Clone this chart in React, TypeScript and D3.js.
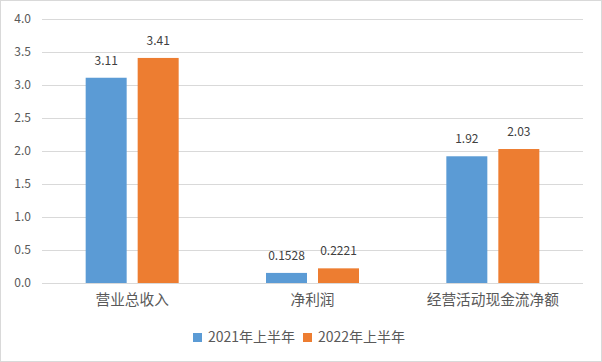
import React, { useEffect, useRef } from 'react';
import * as d3 from 'd3';

const categories = ['营业总收入', '净利润', '经营活动现金流净额'];
const seriesNames = ['2021年上半年', '2022年上半年'];
const values2021 = [3.11, 0.1528, 1.92];
const values2022 = [3.41, 0.2221, 2.03];
const labels2021 = ['3.11', '0.1528', '1.92'];
const labels2022 = ['3.41', '0.2221', '2.03'];
const yTicks = [0, 0.5, 1, 1.5, 2, 2.5, 3, 3.5, 4];
const colors = ['#5B9BD5', '#ED7D31'];

const W = 602;
const H = 362;
const FONT = '"Noto Sans CJK SC", "Noto Sans", sans-serif';

export default function App() {
  const ref = useRef<SVGSVGElement>(null);

  useEffect(() => {
    const svg = d3.select(ref.current);
    svg.selectAll('*').remove();

    const left = 42, right = 583, top = 19, bottom = 283;

    svg.append('rect')
      .attr('x', 0.5).attr('y', 0.5)
      .attr('width', W - 1).attr('height', H - 1)
      .attr('fill', '#fff').attr('stroke', '#d9d9d9');

    const y = d3.scaleLinear().domain([0, 4]).range([bottom, top]);
    const x0 = d3.scaleBand().domain(categories).range([left, right]);
    const barW = 41, gap = 11;
    const x1 = d3.scaleOrdinal<string, number>()
      .domain(seriesNames)
      .range([-gap / 2 - barW, gap / 2]);

    // gridlines
    svg.append('g').selectAll('line')
      .data(yTicks)
      .enter().append('line')
      .attr('x1', left).attr('x2', right)
      .attr('y1', d => Math.round(y(d)) + 0.5)
      .attr('y2', d => Math.round(y(d)) + 0.5)
      .attr('stroke', '#d9d9d9');

    // y tick labels
    svg.append('g').selectAll('text')
      .data(yTicks)
      .enter().append('text')
      .attr('x', 31)
      .attr('y', d => y(d))
      .attr('dy', '0.35em')
      .attr('text-anchor', 'end')
      .attr('font-family', FONT)
      .attr('font-size', 12)
      .attr('fill', '#595959')
      .text(d => d3.format('.1f')(d));

    const series = [
      { name: seriesNames[0], vals: values2021, labels: labels2021, color: colors[0] },
      { name: seriesNames[1], vals: values2022, labels: labels2022, color: colors[1] },
    ];

    series.forEach(s => {
      const g = svg.append('g');
      g.selectAll('rect')
        .data(categories)
        .enter().append('rect')
        .attr('x', (c) => x0(c)! + x0.bandwidth() / 2 + x1(s.name))
        .attr('y', (c, i) => y(s.vals[i]))
        .attr('width', barW)
        .attr('height', (c, i) => bottom - y(s.vals[i]))
        .attr('fill', s.color);
      g.selectAll('text')
        .data(categories)
        .enter().append('text')
        .attr('x', (c) => x0(c)! + x0.bandwidth() / 2 + x1(s.name) + barW / 2)
        .attr('y', (c, i) => y(s.vals[i]) - 13)
        .attr('text-anchor', 'middle')
        .attr('font-family', FONT)
        .attr('font-size', 12)
        .attr('fill', '#404040')
        .text((c, i) => s.labels[i]);
    });

    // category labels
    svg.append('g').selectAll('text')
      .data(categories)
      .enter().append('text')
      .attr('x', c => x0(c)! + x0.bandwidth() / 2)
      .attr('y', 300)
      .attr('dy', '0.35em')
      .attr('text-anchor', 'middle')
      .attr('font-family', FONT)
      .attr('font-size', 14.7)
      .attr('fill', '#595959')
      .text(c => c);

    // legend
    const legendX = [193, 303];
    const lg = svg.append('g');
    seriesNames.forEach((n, i) => {
      lg.append('rect')
        .attr('x', legendX[i]).attr('y', 333)
        .attr('width', 9).attr('height', 9)
        .attr('fill', colors[i]);
      lg.append('text')
        .attr('x', legendX[i] + 15).attr('y', 337.5)
        .attr('dy', '0.35em')
        .attr('font-family', FONT)
        .attr('font-size', 14)
        .attr('fill', '#595959')
        .text(n);
    });
  }, []);

  return (
    <svg ref={ref} width={W} height={H}
      style={{ position: 'absolute', left: 0, top: 0, display: 'block' }} />
  );
}
